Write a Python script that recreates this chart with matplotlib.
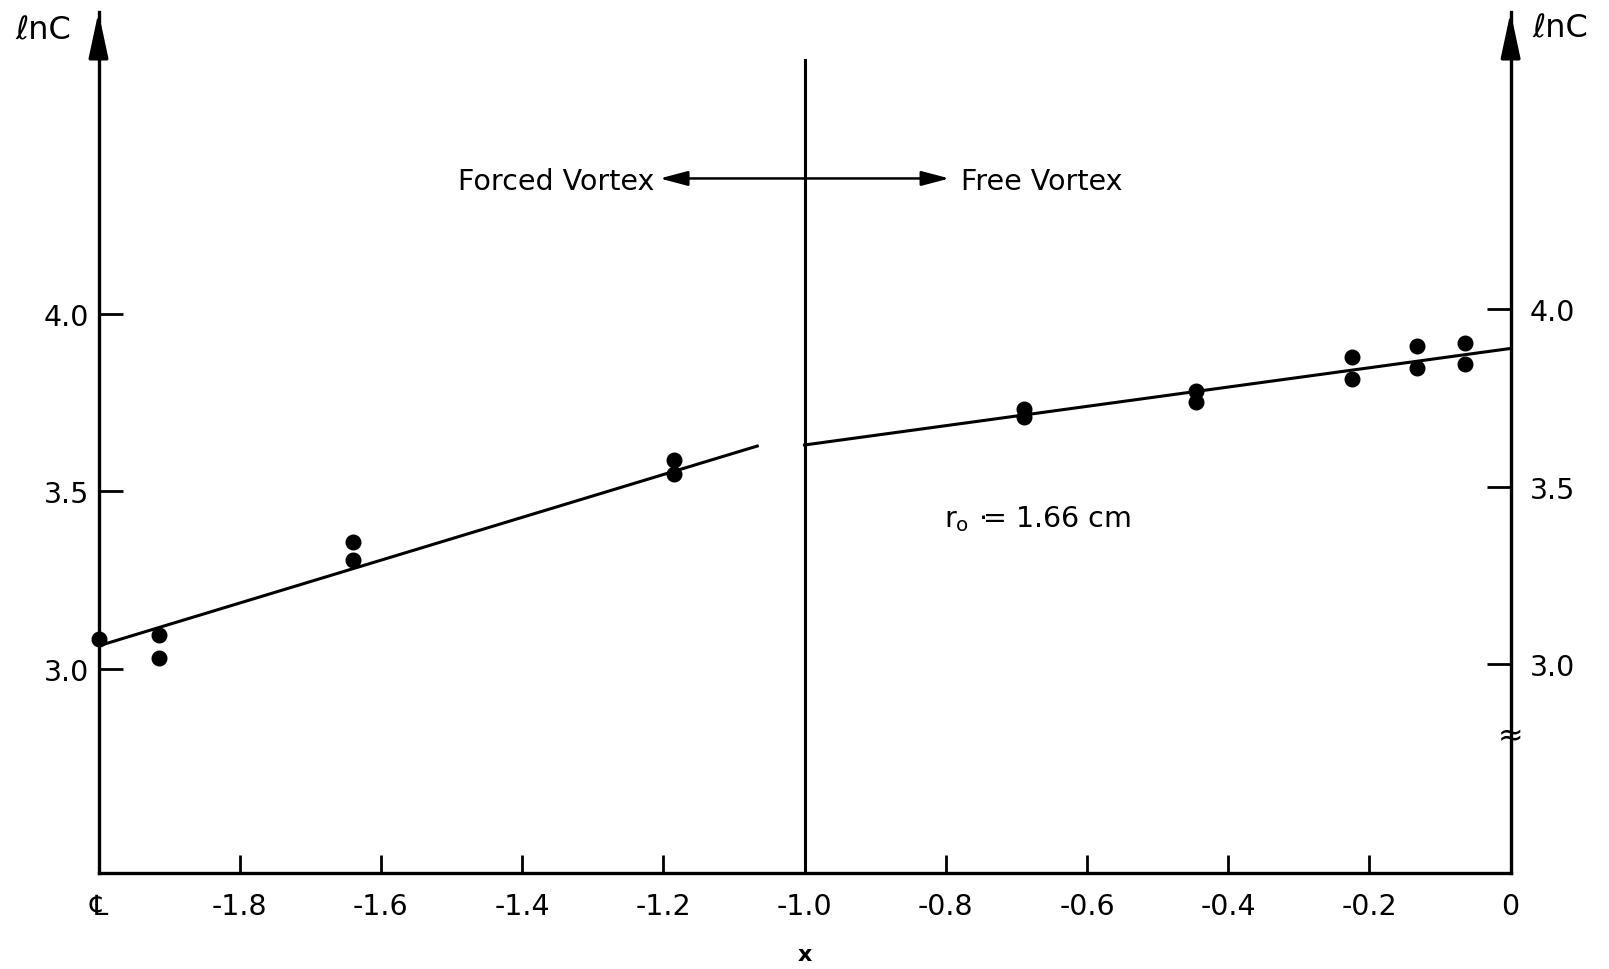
import matplotlib
matplotlib.use("Agg")
import matplotlib.pyplot as plt

forced_x = [-2.0, -1.914, -1.914, -1.640, -1.640, -1.185, -1.185]
forced_y = [3.084, 3.095, 3.029, 3.358, 3.306, 3.587, 3.549]
free_x = [-0.689, -0.689, -0.446, -0.446, -0.224, -0.224, -0.132, -0.132, -0.064, -0.064]
free_y = [3.731, 3.708, 3.783, 3.751, 3.879, 3.815, 3.908, 3.847, 3.916, 3.858]

# fitted lines (end points)
forced_fit_x = [-2.0, -1.067]
forced_fit_y = [3.064, 3.627]
free_fit_x = [-1.0, 0.0]
free_fit_y = [3.630, 3.902]

x_ticks = [-2.0, -1.8, -1.6, -1.4, -1.2, -1.0, -0.8, -0.6, -0.4, -0.2, 0.0]
x_labels = ["\u2104", "-1.8", "-1.6", "-1.4", "-1.2", "-1.0", "-0.8", "-0.6", "-0.4", "-0.2", "0"]
y_ticks = [3.0, 3.5, 4.0]
y_labels = ["3.0", "3.5", "4.0"]

Y_LO, Y_HI = 2.424, 4.850
RIGHT_SHIFT = 0.013   # right scale sits a few pixels higher than the left one

plt.rcParams['font.family'] = ['DejaVu Sans']
FS = 20.5

fig = plt.figure(figsize=(16.09, 9.70), dpi=100)
ax = fig.add_axes([98.5 / 1609, 96 / 970, (1510.6 - 98.5) / 1609, (874 - 13) / 970])
ax.set_xlim(-2.0, 0.0)
ax.set_ylim(Y_LO, Y_HI)

for side in ['left', 'right', 'bottom']:
    ax.spines[side].set_linewidth(2.4)
ax.spines['top'].set_visible(False)

# arrow heads on the two vertical axes
for xf in (0.0, 1.0):
    ax.annotate('', xy=(xf, 1.0), xytext=(xf, 0.95), xycoords='axes fraction',
                arrowprops=dict(arrowstyle='-|>,head_length=2.8,head_width=0.6',
                                color='black', lw=2.4, shrinkA=0, shrinkB=0))

# divider between forced and free vortex
ax.plot([-1.0, -1.0], [Y_LO, 4.714], color='black', lw=2.2)

ax.plot(forced_fit_x, forced_fit_y, color='black', lw=2.2)
ax.plot(free_fit_x, free_fit_y, color='black', lw=2.2)
ax.plot(forced_x, forced_y, 'o', color='black', ms=10.5, clip_on=False)
ax.plot(free_x, free_y, 'o', color='black', ms=10.5, clip_on=False)

ax.set_xticks(x_ticks)
ax.set_xticklabels(x_labels, fontsize=FS)
ax.tick_params(axis='x', direction='in', length=13, width=2.0, pad=14)
ax.set_yticks(y_ticks)
ax.set_yticklabels(y_labels, fontsize=FS)
ax.tick_params(axis='y', direction='in', length=17, width=2.0, pad=7)
ax.set_xlabel('x', fontsize=16, fontweight='bold', labelpad=17)

ax2 = ax.twinx()
ax2.set_ylim(Y_LO - RIGHT_SHIFT, Y_HI - RIGHT_SHIFT)
for side in ['left', 'right', 'bottom', 'top']:
    ax2.spines[side].set_visible(False)
ax2.set_yticks(y_ticks)
ax2.set_yticklabels(y_labels, fontsize=FS)
ax2.tick_params(axis='y', direction='in', length=17, width=2.0, pad=14)

# axis break mark on the right axis
ax.text(0.0, 2.81, '\u2248', fontsize=22, ha='center', va='center')

# region arrows
arrow_y = 4.381
ax.annotate('', xy=(-1.205, arrow_y), xytext=(-1.0, arrow_y),
            arrowprops=dict(arrowstyle='-|>,head_length=1.7,head_width=0.45',
                            color='black', lw=1.8, shrinkA=0, shrinkB=0))
ax.annotate('', xy=(-0.795, arrow_y), xytext=(-1.0, arrow_y),
            arrowprops=dict(arrowstyle='-|>,head_length=1.7,head_width=0.45',
                            color='black', lw=1.8, shrinkA=0, shrinkB=0))
ax.text(-1.212, arrow_y - 0.006, 'Forced Vortex', fontsize=FS, ha='right', va='center')
ax.text(-0.778, arrow_y - 0.006, 'Free Vortex', fontsize=FS, ha='left', va='center')

ax.text(-0.802, 3.425, r'r$_{\mathregular{o}}$ $\cdot\!$= 1.66 cm', fontsize=FS,
        ha='left', va='center')

fig.text(15 / 1609, 1 - 31 / 970, '\u2113nC', fontsize=23, ha='left', va='center')
fig.text(1532 / 1609, 1 - 29 / 970, '\u2113nC', fontsize=23, ha='left', va='center')

fig.savefig('out.png', dpi=100, facecolor='white')
